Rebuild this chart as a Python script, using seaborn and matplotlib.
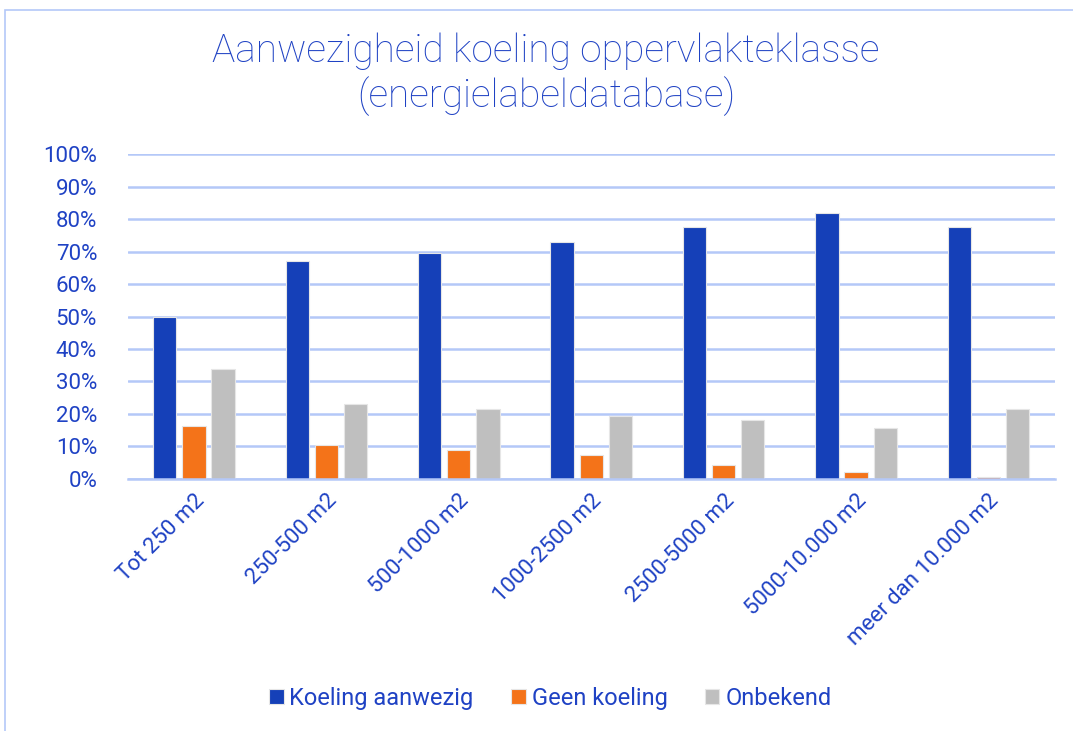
import matplotlib
matplotlib.use("Agg")
import matplotlib.pyplot as plt
import seaborn as sns
import pandas as pd
from matplotlib.patches import Rectangle
from matplotlib.ticker import PercentFormatter

categories = ['Tot 250 m2', '250-500 m2', '500-1000 m2', '1000-2500 m2',
              '2500-5000 m2', '5000-10.000 m2', 'meer dan 10.000 m2']
koeling_aanwezig = [50.0, 67.0, 69.6, 73.0, 77.6, 82.0, 77.6]
geen_koeling = [16.2, 10.3, 8.9, 7.4, 4.3, 2.2, 0.5]
onbekend = [33.8, 22.9, 21.4, 19.4, 18.0, 15.7, 21.5]
series = ['Koeling aanwezig', 'Geen koeling', 'Onbekend']
colors = ['#1540B8', '#F47319', '#BFBFBF']

TEXT = '#1F42C4'
GRID = '#B4C8F8'

df = pd.DataFrame({'klasse': categories,
                   series[0]: koeling_aanwezig,
                   series[1]: geen_koeling,
                   series[2]: onbekend})
long_df = df.melt(id_vars='klasse', var_name='serie', value_name='pct')

sns.set_style('white')
plt.rcParams['font.family'] = ['Roboto', 'DejaVu Sans']

fig = plt.figure(figsize=(10.73, 7.31), dpi=100)
ax = fig.add_axes([0.119, 0.345, 0.864, 0.444])

sns.barplot(data=long_df, x='klasse', y='pct', hue='serie', order=categories,
            hue_order=series, palette=colors, saturation=1, width=0.66, gap=0.2,
            edgecolor='#E6E6E6', linewidth=0.8, ax=ax, legend=True)

ax.set_ylim(0, 100)
ax.set_yticks(range(0, 101, 10))
ax.yaxis.set_major_formatter(PercentFormatter(decimals=0))
ax.yaxis.grid(True, color=GRID, linewidth=1.8)
ax.set_axisbelow(True)
ax.set_xlim(-0.5, len(categories) - 0.5)
for s in ['top', 'right', 'left']:
    ax.spines[s].set_visible(False)
ax.spines['bottom'].set_color(GRID)
ax.spines['bottom'].set_linewidth(1.8)
ax.set_xlabel('')
ax.set_ylabel('')
ax.tick_params(axis='y', colors=TEXT, labelsize=16, length=0, pad=22)
ax.tick_params(axis='x', colors=TEXT, labelsize=16, length=0, pad=8)
plt.setp(ax.get_xticklabels(), rotation=45, ha='right', rotation_mode='anchor')

fig.text(0.509, 0.898, 'Aanwezigheid koeling oppervlakteklasse\n(energielabeldatabase)',
         color=TEXT, fontsize=28, fontweight='light', ha='center', va='center',
         linespacing=1.2)

handles, labels = ax.get_legend_handles_labels()
ax.legend(handles, labels, loc='center', bbox_to_anchor=(0.513, 0.045),
          bbox_transform=fig.transFigure, ncol=3, frameon=False,
          handlelength=0.6, handleheight=0.6, handletextpad=0.25,
          columnspacing=1.6, fontsize=17, labelcolor=TEXT)

fig.patches.append(Rectangle((0.005, -0.1), 1.1, 1.086, transform=fig.transFigure,
                             fill=False, edgecolor=GRID, linewidth=1.2))

fig.savefig('out.png', dpi=100)
